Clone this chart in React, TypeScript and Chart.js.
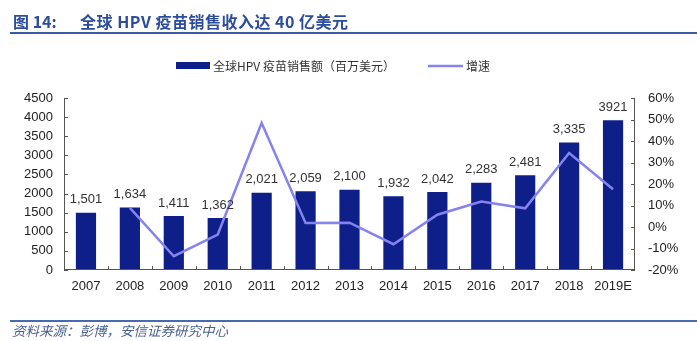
import React, { useEffect, useRef } from "react";
import { Chart, registerables } from "chart.js";

Chart.register(...registerables);

const categories = ["2007", "2008", "2009", "2010", "2011", "2012", "2013", "2014", "2015", "2016", "2017", "2018", "2019E"];
const sales = [1501, 1634, 1411, 1362, 2021, 2059, 2100, 1932, 2042, 2283, 2481, 3335, 3921];
const salesLabels = ["1,501", "1,634", "1,411", "1,362", "2,021", "2,059", "2,100", "1,932", "2,042", "2,283", "2,481", "3,335", "3921"];
const growth = [null, 8.9, -13.6, -3.5, 48.4, 1.9, 2.0, -8.0, 5.7, 11.8, 8.7, 34.4, 17.6];
const leftTicks = [0, 500, 1000, 1500, 2000, 2500, 3000, 3500, 4000, 4500];
const rightTicks = [-20, -10, 0, 10, 20, 30, 40, 50, 60];

const BAR_COLOR = "#0f1f8a";
const LINE_COLOR = "#8583ee";
const TITLE_COLOR = "#2c4c9c";
const AXIS_COLOR = "#555555";
const TEXT_COLOR = "#333333";
const SANS = "'Liberation Sans', Arial, 'Noto Sans CJK SC', sans-serif";
const CJK = "'Noto Sans CJK SC', 'Liberation Sans', sans-serif";

const decorPlugin = {
  id: "decor",
  afterDraw(chart: any) {
    const ctx = chart.ctx as CanvasRenderingContext2D;
    const area = chart.chartArea;
    const x = chart.scales.x;
    const y = chart.scales.y;
    const y1 = chart.scales.y1;
    ctx.save();

    // Title
    ctx.fillStyle = TITLE_COLOR;
    ctx.textBaseline = "middle";
    ctx.textAlign = "left";
    ctx.font = "bold 16px " + CJK;
    ctx.fillText("图 14:", 13, 22);
    (ctx as any).letterSpacing = "0.5px";
    ctx.fillText("全球 HPV 疫苗销售收入达 40 亿美元", 80, 22);
    (ctx as any).letterSpacing = "0px";
    ctx.strokeStyle = "#3b5ba8";
    ctx.lineWidth = 2;
    ctx.beginPath();
    ctx.moveTo(10, 33);
    ctx.lineTo(697, 33);
    ctx.stroke();

    // Legend
    ctx.fillStyle = BAR_COLOR;
    ctx.fillRect(176, 62, 34, 7);
    ctx.fillStyle = TEXT_COLOR;
    ctx.font = "12px " + CJK;
    ctx.fillText("全球HPV 疫苗销售额（百万美元）", 213, 66);
    ctx.strokeStyle = LINE_COLOR;
    ctx.lineWidth = 2.5;
    ctx.beginPath();
    ctx.moveTo(428, 66);
    ctx.lineTo(463, 66);
    ctx.stroke();
    ctx.fillText("增速", 466, 66);

    // Axes
    ctx.strokeStyle = AXIS_COLOR;
    ctx.lineWidth = 1;
    ctx.beginPath();
    ctx.moveTo(area.left + 0.5, area.top);
    ctx.lineTo(area.left + 0.5, area.bottom);
    ctx.moveTo(area.right - 0.5, area.top);
    ctx.lineTo(area.right - 0.5, area.bottom);
    ctx.moveTo(area.left, area.bottom - 0.5);
    ctx.lineTo(area.right, area.bottom - 0.5);
    leftTicks.forEach((v) => {
      const py = Math.round(y.getPixelForValue(v)) + 0.5;
      ctx.moveTo(area.left, py);
      ctx.lineTo(area.left + 4, py);
    });
    rightTicks.forEach((v) => {
      const py = Math.round(y1.getPixelForValue(v)) + 0.5;
      ctx.moveTo(area.right, py);
      ctx.lineTo(area.right - 4, py);
    });
    const w = (area.right - area.left) / categories.length;
    for (let i = 1; i < categories.length; i++) {
      const px = Math.round(x.getPixelForValue(i) - w / 2) + 0.5;
      ctx.moveTo(px, area.bottom);
      ctx.lineTo(px, area.bottom - 4);
    }
    ctx.stroke();

    // Data labels
    ctx.fillStyle = TEXT_COLOR;
    ctx.font = "13px " + SANS;
    ctx.textAlign = "center";
    ctx.textBaseline = "middle";
    sales.forEach((v, i) => {
      ctx.fillText(salesLabels[i], x.getPixelForValue(i), y.getPixelForValue(v) - 13);
    });

    // Footer
    ctx.strokeStyle = "#4a6ab0";
    ctx.lineWidth = 2;
    ctx.beginPath();
    ctx.moveTo(10, 321);
    ctx.lineTo(697, 321);
    ctx.stroke();
    ctx.fillStyle = "#4a5f8f";
    ctx.textAlign = "left";
    ctx.font = "italic 13.5px " + CJK;
    ctx.fillText("资料来源：彭博，安信证券研究中心", 12, 331);

    ctx.restore();
  },
};

export default function App() {
  const ref = useRef<HTMLCanvasElement>(null);
  useEffect(() => {
    document.body.style.margin = "0";
    const canvas = ref.current;
    if (!canvas) return;
    const chart = new Chart(canvas, {
      type: "bar",
      data: {
        labels: categories,
        datasets: [
          {
            type: "line",
            label: "增速",
            data: growth,
            yAxisID: "y1",
            borderColor: LINE_COLOR,
            borderWidth: 2.5,
            pointRadius: 0,
            fill: false,
            tension: 0,
            order: 0,
          } as any,
          {
            type: "bar",
            label: "全球HPV 疫苗销售额（百万美元）",
            data: sales,
            yAxisID: "y",
            backgroundColor: BAR_COLOR,
            barPercentage: 0.46,
            categoryPercentage: 1,
            order: 1,
          },
        ],
      },
      options: {
        responsive: false,
        animation: false,
        devicePixelRatio: 1,
        layout: { padding: { top: 98, bottom: 41, left: 0, right: 0 } },
        plugins: { legend: { display: false }, tooltip: { enabled: false } },
        scales: {
          x: {
            grid: { display: false, drawTicks: false },
            border: { display: false },
            ticks: { color: "#222", font: { size: 13, family: SANS }, padding: 9, maxRotation: 0, autoSkip: false },
            afterFit: (s: any) => { s.height = 30; },
          },
          y: {
            position: "left",
            min: 0,
            max: 4500,
            grid: { display: false, drawTicks: false },
            border: { display: false },
            ticks: { stepSize: 500, color: "#222", font: { size: 13, family: SANS }, padding: 11, callback: (v: any) => String(v) },
            afterFit: (s: any) => { s.width = 64; },
          },
          y1: {
            position: "right",
            min: -20,
            max: 60,
            grid: { display: false, drawTicks: false },
            border: { display: false },
            ticks: { stepSize: 10, color: "#222", font: { size: 13, family: SANS }, padding: 13, callback: (v: any) => v + "%" },
            afterFit: (s: any) => { s.width = 62; },
          },
        },
      },
      plugins: [decorPlugin],
    });
    return () => chart.destroy();
  }, []);
  return (
    <div style={{ width: 697, height: 341, background: "#fff" }}>
      <canvas ref={ref} width={697} height={341} />
    </div>
  );
}
